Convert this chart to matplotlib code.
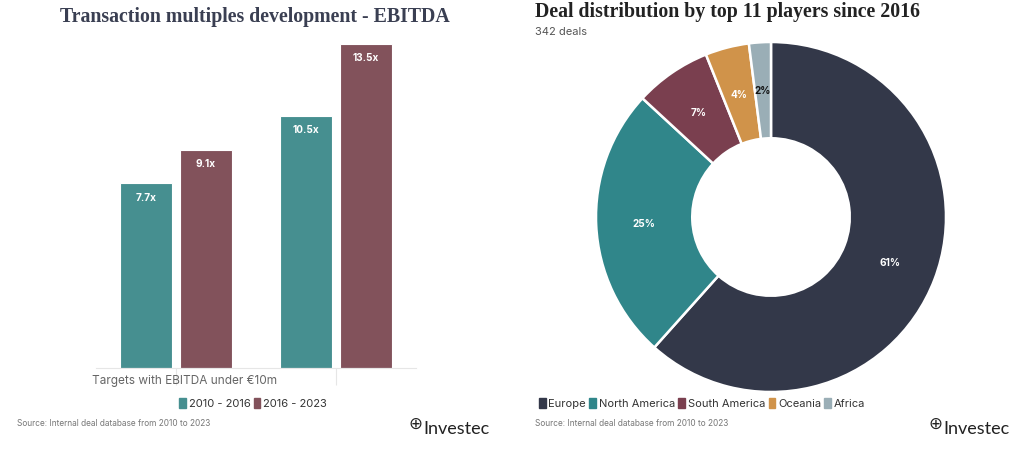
import matplotlib
matplotlib.use("Agg")
import matplotlib.pyplot as plt
import numpy as np
from matplotlib.patches import FancyBboxPatch, Rectangle

# ---- data ----
bar_categories = ["Targets with EBITDA under €10m", ""]
series_names = ["2010 - 2016", "2016 - 2023"]
series_2010_2016 = [7.7, 10.5]
series_2016_2023 = [9.1, 13.5]

regions = ["Europe", "North America", "South America", "Oceania", "Africa"]
region_pct = [61, 25, 7, 4, 2]

bar_colors = ["#468f90", "#82525b"]
pie_colors = ["#333849", "#30868a", "#7a3f4f", "#d0934a", "#9aaeb6"]
title_color = "#3a3f52"
grey_text = "#666666"

W, H = 1024, 452
fig = plt.figure(figsize=(W / 100, H / 100), dpi=100)

def ax_px(x0, y0, x1, y1):
    return fig.add_axes([x0 / W, 1 - y1 / H, (x1 - x0) / W, (y1 - y0) / H])

# ---------------- left: bar chart ----------------
ax = ax_px(96, 45, 416, 369)
x = np.arange(len(bar_categories))
bw = 0.32
off = 0.1875
for i, (vals, col, name) in enumerate(zip([series_2010_2016, series_2016_2023], bar_colors, series_names)):
    xs = x + (off if i else -off)
    bars = ax.bar(xs, vals, width=bw, color=col, edgecolor="white", linewidth=0.8, label=name)
    for b, v in zip(bars, vals):
        ax.text(b.get_x() + b.get_width() / 2, v - 0.35, f"{v}x", ha="center", va="top",
                color="white", fontsize=7.2, fontweight="bold", family="Inter")
ax.set_xlim(-0.5, 1.5)
ax.set_ylim(0, 13.5)
ax.set_yticks([])
ax.set_xticks(x)
ax.set_xticklabels([])
for s in ["top", "right", "left"]:
    ax.spines[s].set_visible(False)
ax.spines["bottom"].set_color("#e6e6e6")
ax.spines["bottom"].set_linewidth(0.8)
ax.tick_params(axis="x", length=12, color="#e6e6e6", width=0.8, direction="out")
ax.patch.set_alpha(0)

fig.text(92 / W, 1 - 381 / H, bar_categories[0], ha="left", va="center",
         fontsize=8.5, color=grey_text, family="Inter")

# left title
fig.text(255 / W, 1 - 17 / H, "Transaction multiples development - EBITDA", ha="center", va="center",
         fontsize=14.3, fontweight="bold", color=title_color, family="Liberation Serif")

# left legend
handles = [Rectangle((0, 0), 1, 1, color=c) for c in bar_colors]
fig.legend(handles, series_names, loc="center", bbox_to_anchor=(253 / W, 1 - 404 / H),
           ncol=2, frameon=False, handlelength=0.6, handleheight=1.0, handletextpad=0.25,
           columnspacing=0.3, prop={"family": "Inter", "size": 8}, labelcolor="#333333")

fig.text(17 / W, 1 - 424 / H, "Source: Internal deal database from 2010 to 2023", ha="left", va="center",
         fontsize=6, color="#777777", family="Inter")

def logo(xc, yc):
    fig.text((xc - 35) / W, 1 - (yc - 4) / H, "⊕", ha="center", va="center", fontsize=12,
             color="#222222", family="DejaVu Sans")
    fig.text((xc - 27) / W, 1 - (yc + 1) / H, "Investec", ha="left", va="center", fontsize=13,
             color="#222222", family="Lato")

logo(450, 428)

# ---------------- right: donut ----------------
R = 175
cx, cy = 771, 218
pax = ax_px(cx - R, cy - R, cx + R, cy + R)
wedges, _ = pax.pie(region_pct, colors=pie_colors, startangle=90, counterclock=False,
                    radius=1.0, wedgeprops=dict(width=0.55, edgecolor="white", linewidth=1.8))
for i, (p, w) in enumerate(zip(region_pct, wedges)):
    mid = np.deg2rad((w.theta1 + w.theta2) / 2)
    r = 0.725
    col = "#111111" if i == len(region_pct) - 1 else "white"
    pax.text(r * np.cos(mid), r * np.sin(mid), f"{p}%", ha="center", va="center",
             fontsize=7.2, fontweight="bold", color=col, family="Inter")
pax.set_xlim(-1, 1)
pax.set_ylim(-1, 1)
pax.set_aspect("equal")
pax.axis("off")

fig.text(535 / W, 1 - 12 / H, "Deal distribution by top 11 players since 2016", ha="left", va="center",
         fontsize=14.3, fontweight="bold", color="#222222", family="Liberation Serif")
fig.text(535 / W, 1 - 32 / H, "342 deals", ha="left", va="center",
         fontsize=8, color="#555555", family="Inter")

handles2 = [Rectangle((0, 0), 1, 1, color=c) for c in pie_colors]
fig.legend(handles2, regions, loc="center left", bbox_to_anchor=(529 / W, 1 - 404 / H),
           ncol=5, frameon=False, handlelength=0.6, handleheight=1.0, handletextpad=0.25,
           columnspacing=0.3, prop={"family": "Inter", "size": 8}, labelcolor="#333333")

fig.text(535 / W, 1 - 424 / H, "Source: Internal deal database from 2010 to 2023", ha="left", va="center",
         fontsize=6, color="#777777", family="Inter")
logo(970, 428)

fig.savefig("out.png", dpi=100)
